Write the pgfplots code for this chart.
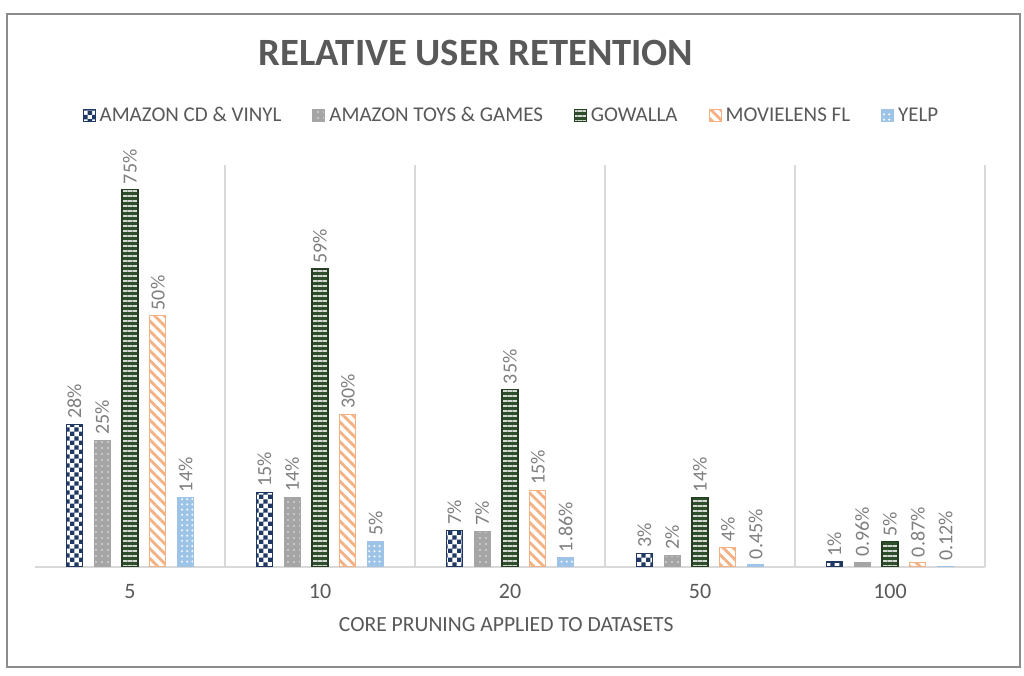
\documentclass[border=0pt]{standalone}
\usepackage{fontspec}
\setmainfont{Carlito}
\usepackage{pgfplots}
\pgfplotsset{compat=1.18}
\usepackage{pgfplotstable}
\usetikzlibrary{patterns,patterns.meta}

\pgfdeclarepatternformonly{smallcheck}{\pgfpointorigin}{\pgfqpoint{4.4pt}{4.4pt}}{\pgfqpoint{4.4pt}{4.4pt}}{%
  \pgfpathrectangle{\pgfpointorigin}{\pgfqpoint{2.25pt}{2.25pt}}%
  \pgfpathrectangle{\pgfqpoint{2.2pt}{2.2pt}}{\pgfqpoint{2.25pt}{2.25pt}}%
  \pgfusepath{fill}}

\definecolor{cdnavy}{HTML}{1F3864}
\definecolor{toygray}{HTML}{A5A5A5}
\definecolor{gwgreen}{HTML}{2E4D2A}
\definecolor{mlorange}{HTML}{F4B183}
\definecolor{yelpblue}{HTML}{9DC3E6}
\definecolor{axisgray}{HTML}{595959}
\definecolor{labelgray}{HTML}{7F7F7F}
\definecolor{gridgray}{HTML}{D9D9D9}
\definecolor{bordergray}{HTML}{8C8C8C}

\pgfplotstableread{
x y lab
0 28.4 28
1 14.9 15
2 7.3 7
3 2.7 3
4 1.0 1
}\tcd
\pgfplotstableread{
x y lab
0 25.2 25
1 13.9 14
2 7.1 7
3 2.3 2
4 0.96 0.96
}\ttoy
\pgfplotstableread{
x y lab
0 75.1 75
1 59.3 59
2 35.3 35
3 13.8 14
4 5.0 5
}\tgw
\pgfplotstableread{
x y lab
0 50.0 50
1 30.4 30
2 15.3 15
3 3.9 4
4 0.87 0.87
}\tml
\pgfplotstableread{
x y lab
0 13.8 14
1 5.1 5
2 1.86 1.86
3 0.45 0.45
4 0.12 0.12
}\tyelp

\begin{document}
\begin{tikzpicture}
\useasboundingbox (0,0) rectangle (512bp,338bp);
\fill[white] (0,0) rectangle (512bp,338bp);
\draw[bordergray, line width=1bp] (3.5bp,4.5bp) rectangle (510bp,331bp);
\node[font=\bfseries\fontsize{19.3bp}{22bp}\selectfont, text=axisgray] at (238bp,311.5bp) {RELATIVE USER RETENTION};
\begin{axis}[
  at={(17.5bp,54.5bp)}, anchor=south west,
  scale only axis, width=475bp, height=201bp,
  ybar=5.9bp, bar width=8bp,
  xmin=-0.5, xmax=4.5, ymin=0, ymax=80,
  hide y axis,
  axis x line*=bottom,
  x axis line style={draw=gridgray, line width=1bp},
  xtick={0,1,2,3,4}, xticklabels={5,10,20,50,100},
  major tick length=0pt,
  xticklabel style={font=\fontsize{11bp}{13bp}\selectfont, text=axisgray, yshift=-5bp},
  extra x ticks={0.5,1.5,2.5,3.5,4.5}, extra x tick labels={},
  extra x tick style={grid=major, major grid style={draw=gridgray, line width=0.8bp}},
  xlabel={CORE PRUNING APPLIED TO DATASETS},
  xlabel style={at={(axis description cs:0.496,-0.144)}, anchor=center, font=\fontsize{10.8bp}{13bp}\selectfont, text=axisgray},
  point meta=explicit symbolic,
  nodes near coords={\pgfplotspointmeta\%},
  every node near coord/.append style={rotate=90, anchor=west, inner sep=2.5bp, font=\fontsize{10bp}{12bp}\selectfont, text=labelgray},
  legend columns=-1,
  legend style={at={(axis description cs:0.5026,1.122)}, anchor=center, draw=none, fill=none,
    font=\fontsize{10.5bp}{13bp}\selectfont, text=axisgray,
    /tikz/every even column/.append style={column sep=13.5bp}},
  legsq/.style={legend image code/.code={\draw[##1,line width=0.5bp] (0bp,-3bp) rectangle (6bp,3bp);}},
]
\addplot[legsq, draw=cdnavy, line width=0.6bp, fill=white, postaction={pattern=smallcheck, pattern color=cdnavy}] table[x=x,y=y,meta=lab]{\tcd};
\addlegendentry{AMAZON CD \& VINYL}
\addplot[legsq, draw=toygray, line width=0.6bp, fill=toygray, postaction={pattern={Dots[radius=0.45bp, distance=3bp]}, pattern color=white!75!toygray}] table[x=x,y=y,meta=lab]{\ttoy};
\addlegendentry{AMAZON TOYS \& GAMES}
\addplot[legsq, draw=gwgreen!80!black, line width=0.6bp, fill=gwgreen, postaction={pattern={Lines[angle=0, distance=2.5bp, line width=0.8bp]}, pattern color=white!80!gwgreen}] table[x=x,y=y,meta=lab]{\tgw};
\addlegendentry{GOWALLA}
\addplot[legsq, draw=mlorange, line width=0.6bp, fill=white, postaction={pattern={Lines[angle=-45, distance=3.5bp, line width=1.4bp]}, pattern color=mlorange}] table[x=x,y=y,meta=lab]{\tml};
\addlegendentry{MOVIELENS FL}
\addplot[legsq, draw=yelpblue, line width=0.6bp, fill=yelpblue, postaction={pattern={Dots[radius=0.6bp, distance=2.6bp]}, pattern color=white!85!yelpblue}] table[x=x,y=y,meta=lab]{\tyelp};
\addlegendentry{YELP}
\end{axis}
\end{tikzpicture}
\end{document}
